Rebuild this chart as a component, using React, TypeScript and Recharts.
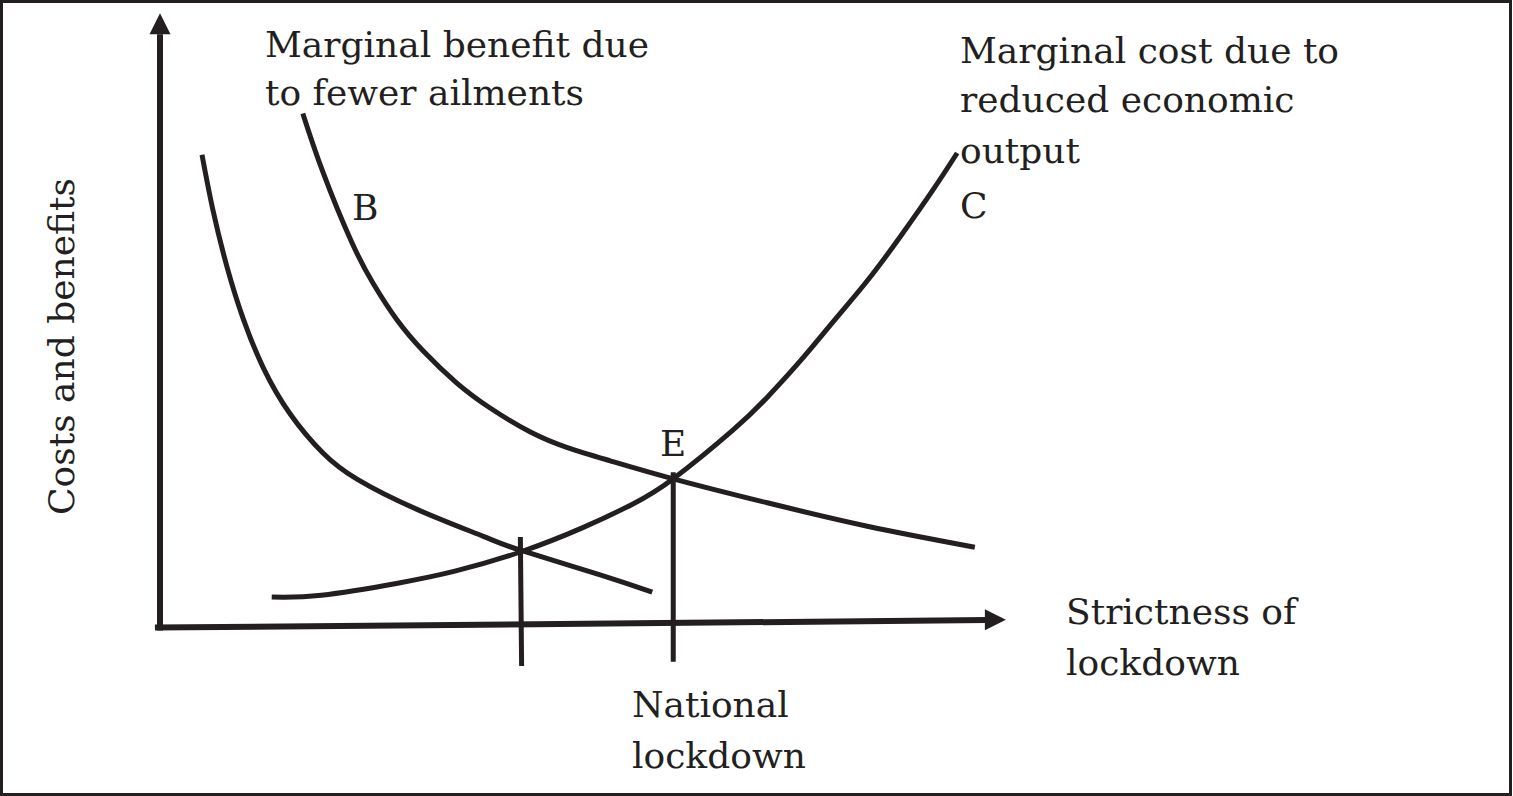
import React from 'react';
import {
  ComposedChart, Line, XAxis, YAxis, ReferenceLine, ReferenceDot, Customized
} from 'recharts';

const INK = '#231f20';
const FONT = '"DejaVu Serif", serif';

// x = strictness of lockdown (0-100), y = costs and benefits (0-100)
const benefitX = [17.0, 19.4, 22.8, 25.4, 28.2, 31.4, 35.3, 39.3, 44.1, 48.5, 53.6, 61.1, 72.3, 84.2, 97.0];
const benefitY = [85.6, 75.8, 64.2, 57.2, 51.2, 45.9, 40.7, 36.5, 32.5, 29.9, 27.7, 24.7, 20.7, 16.8, 13.3];

const lowBenefitX = [5.0, 6.3, 8.0, 9.9, 12.3, 15.5, 19.4, 23.5, 30.6, 38.5, 42.9, 52.4, 58.6];
const lowBenefitY = [78.7, 69.5, 59.9, 51.4, 43.2, 35.5, 29.0, 24.6, 19.6, 15.1, 12.8, 8.7, 5.8];

const costX = [13.3, 19.2, 28.3, 35.1, 42.9, 50.4, 56.3, 61.1, 68.2, 72.3, 76.2, 80.1, 84.2, 88.1, 92.0, 94.9];
const costY = [5.0, 5.3, 7.3, 9.3, 12.5, 16.6, 20.5, 24.7, 32.8, 38.3, 44.3, 50.8, 57.7, 65.0, 72.8, 79.0];

// drop lines from the two intersections
const dropX = [42.9, 61.1];
const dropTop = [15.0, 25.8];
const dropBottom = [-6.5, -5.8];

const toPoints = (xs: number[], ys: number[]) => xs.map((x, i) => ({ x, y: ys[i] }));

const benefit = toPoints(benefitX, benefitY);
const lowBenefit = toPoints(lowBenefitX, lowBenefitY);
const cost = toPoints(costX, costY);
const drops = dropX.map((x, i) => [
  { x, y: dropTop[i] },
  { x: x + 0.15 * (1 - i), y: dropBottom[i] },
]);

const upArrow = (p: any) => (
  <polygon points={`${p.cx},${p.cy} ${p.cx - 10.5},${p.cy + 21} ${p.cx + 10.5},${p.cy + 21}`} fill={INK} />
);
const rightArrow = (p: any) => (
  <polygon points={`${p.cx},${p.cy} ${p.cx - 21},${p.cy - 10.5} ${p.cx - 21},${p.cy + 10.5}`} fill={INK} />
);

const t = (x: number, y: number, s: string) => (
  <text key={s + y} x={x} y={y} fill={INK} fontFamily={FONT} fontSize={36}>{s}</text>
);

const Annotations = () => (
  <g>
    {t(265, 57, 'Marginal benefit due')}
    {t(265, 105, 'to fewer ailments')}
    {t(352, 220, 'B')}
    {t(960, 63, 'Marginal cost due to')}
    {t(960, 112, 'reduced economic')}
    {t(960, 163, 'output')}
    {t(960, 218, 'C')}
    {t(660, 456, 'E')}
    {t(1066, 624, 'Strictness of')}
    {t(1066, 675, 'lockdown')}
    {t(632, 717, 'National')}
    {t(632, 768, 'lockdown')}
    <text
      x={74} y={346.5} transform="rotate(-90 74 346.5)" textAnchor="middle"
      fill={INK} fontFamily={FONT} fontSize={36}
    >
      Costs and benefits
    </text>
  </g>
);

export default function App() {
  return (
    <div style={{ position: 'absolute', left: 0, top: 0, width: 1513, height: 796, background: '#fff' }}>
      <ComposedChart width={1513} height={796} margin={{ top: 27, right: 513, bottom: 49, left: 160 }}>
        <XAxis type="number" dataKey="x" domain={[0, 100]} hide />
        <YAxis type="number" dataKey="y" domain={[-20, 100]} hide />

        {/* axes */}
        <ReferenceLine
          segment={[{ x: 0, y: -0.6 }, { x: 0, y: 98.8 }]}
          stroke={INK} strokeWidth={6} ifOverflow="visible"
        />
        <ReferenceDot x={0} y={102.3} ifOverflow="visible" shape={upArrow} />
        <ReferenceLine
          segment={[{ x: -0.6, y: -0.1 }, { x: 98.5, y: 1.15 }]}
          stroke={INK} strokeWidth={6} ifOverflow="visible"
        />
        <ReferenceDot x={100.7} y={1.2} ifOverflow="visible" shape={rightArrow} />

        <Line data={lowBenefit} dataKey="y" type="natural" stroke={INK} strokeWidth={5} dot={false} isAnimationActive={false} />
        <Line data={benefit} dataKey="y" type="natural" stroke={INK} strokeWidth={5} dot={false} isAnimationActive={false} />
        <Line data={cost} dataKey="y" type="natural" stroke={INK} strokeWidth={5} dot={false} isAnimationActive={false} />
        {drops.map((d, i) => (
          <Line key={i} data={d} dataKey="y" type="linear" stroke={INK} strokeWidth={5} dot={false} isAnimationActive={false} />
        ))}

        <Customized component={Annotations} />
      </ComposedChart>
      <div
        style={{
          position: 'absolute', left: 0, top: 0, width: 1512, height: 796,
          border: `3px solid ${INK}`, boxSizing: 'border-box', pointerEvents: 'none',
        }}
      />
    </div>
  );
}
